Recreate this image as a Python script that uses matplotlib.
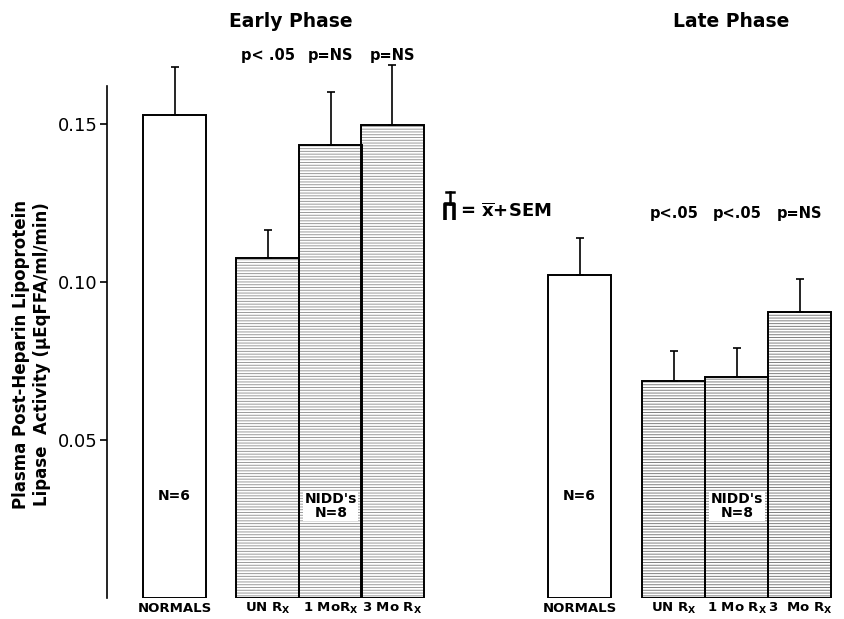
import matplotlib.pyplot as plt

plt.rcParams['font.family'] = ['DejaVu Sans']
plt.rcParams['hatch.linewidth'] = 0.7

# values (uEqFFA/ml/min)
groups = ['NORMALS', r'UN R$_\mathbf{X}$', r'1 MoR$_\mathbf{X}$', r'3 Mo R$_\mathbf{X}$']
late_groups = ['NORMALS', r'UN R$_\mathbf{X}$', r'1 Mo R$_\mathbf{X}$', r'3  Mo R$_\mathbf{X}$']
early_mean = [0.1527, 0.1074, 0.1434, 0.1497]
early_top = [0.1679, 0.1162, 0.1600, 0.1685]
late_mean = [0.1021, 0.0685, 0.0698, 0.0903]
late_top = [0.1138, 0.0780, 0.0790, 0.1008]
early_p = ['p< .05', 'p=NS', 'p=NS']
late_p = ['p<.05', 'p<.05', 'p=NS']

# bar positions (layout)
early_x = [1.07, 2.55, 3.55, 4.53]
late_x = [7.5, 9.0, 10.0, 11.0]
width = 1.0

fig = plt.figure(figsize=(8.44, 6.19), dpi=100)
ax = fig.add_axes([0.127, 0.0347, 0.873, 0.944])
ax.set_xlim(0, 11.7)
ax.set_ylim(0, 0.185)


def draw_group(xs, means, tops, hcol):
    err = [t - m for t, m in zip(tops, means)]
    # normals: open bar
    ax.bar(xs[0], means[0], width=width, facecolor='white', edgecolor='black', linewidth=1.4, zorder=2)
    # treated: hatched bars
    ax.bar(xs[1:], means[1:], width=width, facecolor='white', edgecolor=hcol,
           hatch='------', linewidth=0, zorder=2)
    ax.bar(xs[1:], means[1:], width=width, fill=False, edgecolor='black', linewidth=1.4, zorder=3)
    ax.errorbar(xs, means, yerr=[[0] * len(err), err], fmt='none', ecolor='black',
                elinewidth=1.2, capsize=3, capthick=1.2, zorder=4)


draw_group(early_x, early_mean, early_top, '#9a9a9a')
draw_group(late_x, late_mean, late_top, '#808080')

# spines and ticks
for s in ['top', 'right', 'bottom']:
    ax.spines[s].set_visible(False)
ax.spines['left'].set_bounds(0, 0.162)
ax.spines['left'].set_linewidth(1.2)
ax.set_yticks([0.05, 0.10, 0.15])
ax.set_yticklabels(['0.05', '0.10', '0.15'])
ax.tick_params(axis='y', direction='out', length=5, width=1.2, labelsize=13, pad=2)
ax.set_xticks([])

bold = dict(fontweight='bold')

# category labels
for x, lab in zip(early_x, groups):
    ax.text(x, -0.0047, lab, ha='center', va='baseline', fontsize=9.5, **bold)
for x, lab in zip(late_x, late_groups):
    ax.text(x, -0.0047, lab, ha='center', va='baseline', fontsize=9.5, **bold)

# in-bar labels
ax.text(early_x[0], 0.032, 'N=6', ha='center', va='center', fontsize=10, **bold)
ax.text(late_x[0], 0.032, 'N=6', ha='center', va='center', fontsize=10, **bold)
ax.text(early_x[2], 0.029, "NIDD's\nN=8", ha='center', va='center', fontsize=10,
        linespacing=0.95, zorder=5, bbox=dict(facecolor='white', edgecolor='none', pad=1), **bold)
ax.text(late_x[2], 0.029, "NIDD's\nN=8", ha='center', va='center', fontsize=10,
        linespacing=0.95, zorder=5, bbox=dict(facecolor='white', edgecolor='none', pad=1), **bold)

# p values
for x, p in zip(early_x[1:], early_p):
    ax.text(x, 0.1715, p, ha='center', va='center', fontsize=10.5, **bold)
for x, p in zip(late_x[1:], late_p):
    ax.text(x, 0.1215, p, ha='center', va='center', fontsize=10.5, **bold)

# phase titles
fig.text(0.345, 0.9645, 'Early Phase', ha='center', va='center', fontsize=13.5, **bold)
fig.text(0.866, 0.9645, 'Late Phase', ha='center', va='center', fontsize=13.5, **bold)

# key: mini bar with error line
kx = 5.44
ax.plot([kx - 0.075, kx - 0.075, kx + 0.075, kx + 0.075], [0.1195, 0.1245, 0.1245, 0.1195],
        color='black', lw=2.6, solid_capstyle='butt', clip_on=False)
ax.plot([kx, kx], [0.1245, 0.1285], color='black', lw=1.8, clip_on=False)
ax.plot([kx - 0.06, kx + 0.06], [0.1285, 0.1285], color='black', lw=1.8, clip_on=False)
ax.text(kx + 0.17, 0.1222, r'= $\overline{\mathbf{x}}$+SEM', ha='left', va='center',
        fontsize=13, **bold)

# y label
fig.text(0.025, 0.428, 'Plasma Post-Heparin Lipoprotein', rotation=90, ha='center', va='center',
         fontsize=12, **bold)
fig.text(0.050, 0.428, 'Lipase  Activity (\u03bcEqFFA/ml/min)', rotation=90, ha='center', va='center',
         fontsize=12, **bold)

fig.savefig('out.png', dpi=100)
